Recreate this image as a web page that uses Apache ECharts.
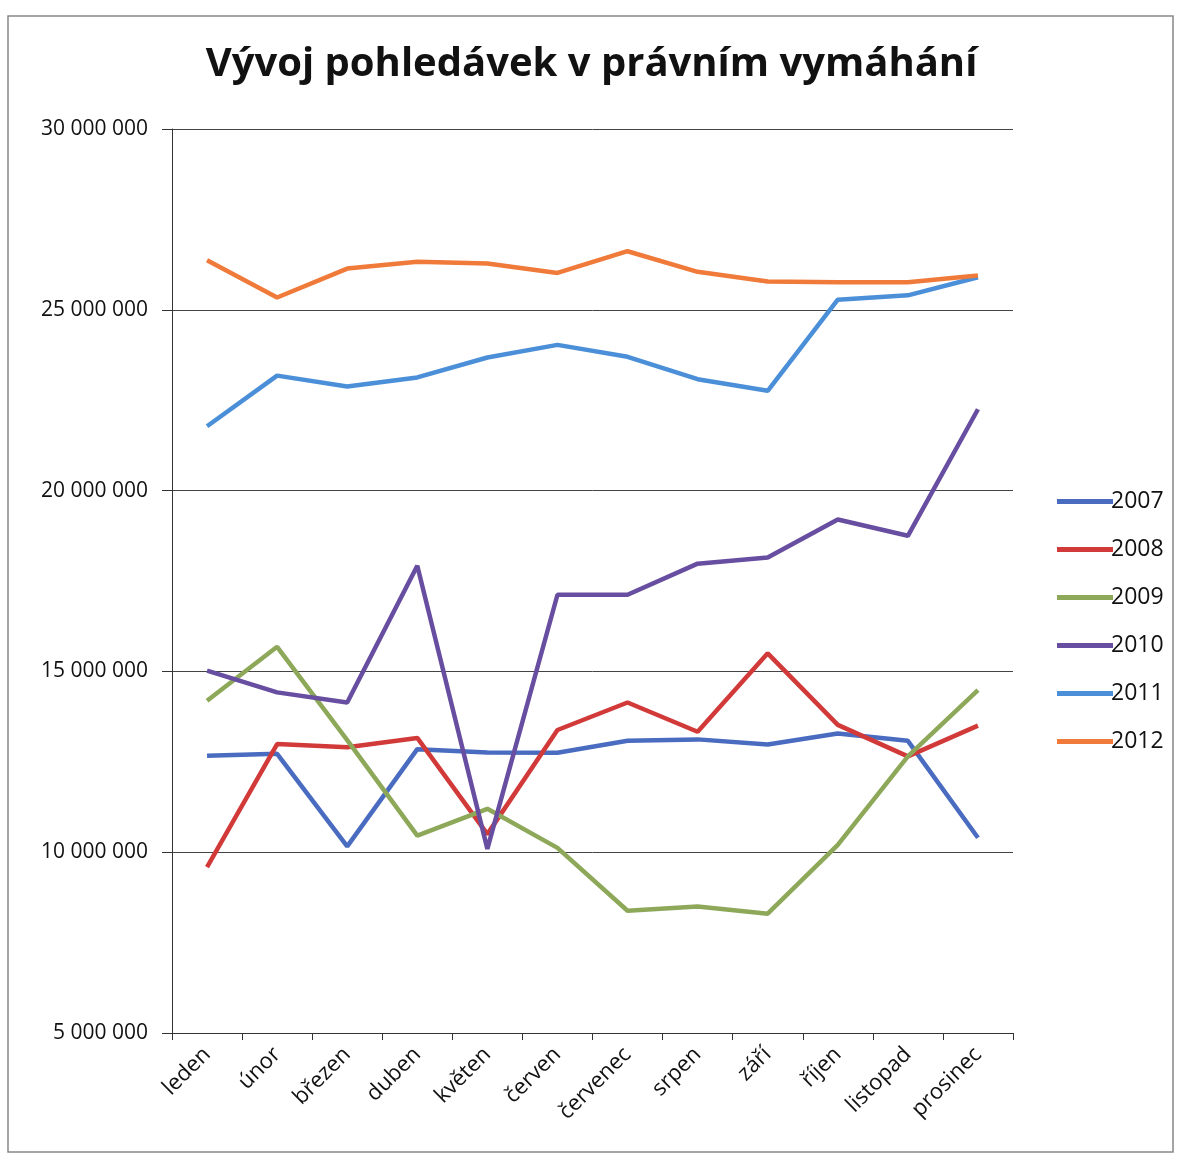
<!DOCTYPE html>
<html><head><meta charset="utf-8">
<script src="https://cdn.jsdelivr.net/npm/echarts@6/dist/echarts.min.js"></script>
<style>html,body{margin:0;padding:0;background:#fff}#c{width:1183px;height:1158px}</style>
</head><body><div id="c"></div>
<script>
const months = ['leden','únor','březen','duben','květen','červen','červenec','srpen','září','říjen','listopad','prosinec'];
const years = ['2007','2008','2009','2010','2011','2012'];
const v2007 = [12670000,12720000,10160000,12850000,12760000,12750000,13080000,13120000,12980000,13280000,13080000,10400000];
const v2008 = [9590000,12990000,12900000,13160000,10500000,13380000,14140000,13330000,15500000,13520000,12650000,13500000];
const v2009 = [14190000,15680000,13100000,10460000,11200000,10120000,8380000,8500000,8300000,10200000,12650000,14480000];
const v2010 = [15020000,14420000,14140000,17920000,10090000,17120000,17120000,17980000,18150000,19200000,18750000,22250000];
const v2011 = [21780000,23180000,22880000,23130000,23680000,24030000,23700000,23080000,22760000,25280000,25400000,25900000];
const v2012 = [26370000,25340000,26140000,26330000,26280000,26020000,26620000,26050000,25780000,25760000,25760000,25950000];
const colors = ['#4a6cc0','#d23a3a','#8ea85a','#674ea0','#4b8fd8','#f07a3a'];
const all = [v2007,v2008,v2009,v2010,v2011,v2012];

const fmt = v => String(v).replace(/\B(?=(\d{3})+(?!\d))/g, ' ');
const chart = echarts.init(document.getElementById('c'), null, {renderer:'canvas'});
chart.setOption({
  backgroundColor:'#fff',
  animation:false,
  title:{text:'Vývoj pohledávek v právním vymáhání',left:'center',top:40,
    textStyle:{fontFamily:'Open Sans',fontWeight:'bold',fontSize:40,color:'#111'}},
  graphic:[{type:'rect',shape:{x:8,y:16,width:1165,height:1136},style:{fill:'none',stroke:'#888',lineWidth:1.5}}],
  legend:{orient:'vertical',left:1052,top:485,itemGap:25,itemWidth:56,itemHeight:5,
    icon:'rect',textStyle:{fontFamily:'Open Sans',fontSize:23,color:'#111',padding:[0,0,0,-7]},
    data:years},
  grid:{left:172,right:170,top:129,bottom:125,containLabel:false},
  xAxis:{type:'category',data:months,boundaryGap:true,
    axisLine:{lineStyle:{color:'#333',width:1}},
    axisTick:{show:true,alignWithLabel:false,length:7,lineStyle:{color:'#333'}},
    axisLabel:{rotate:45,fontFamily:'Open Sans',fontSize:22,color:'#111',margin:18,interval:0}},
  yAxis:{type:'value',min:5000000,max:30000000,interval:5000000,
    axisLine:{show:true,lineStyle:{color:'#333',width:1}},
    axisTick:{show:true,length:10,lineStyle:{color:'#333'}},
    splitLine:{lineStyle:{color:'#444',width:1}},
    axisLabel:{formatter:fmt,fontFamily:'Open Sans',fontSize:21,color:'#111',margin:24}},
  series: years.map((y,i)=>({name:y,type:'line',data:all[i],symbol:'none',
    lineStyle:{width:4.5,color:colors[i]},itemStyle:{color:colors[i]}}))
});
</script></body></html>
